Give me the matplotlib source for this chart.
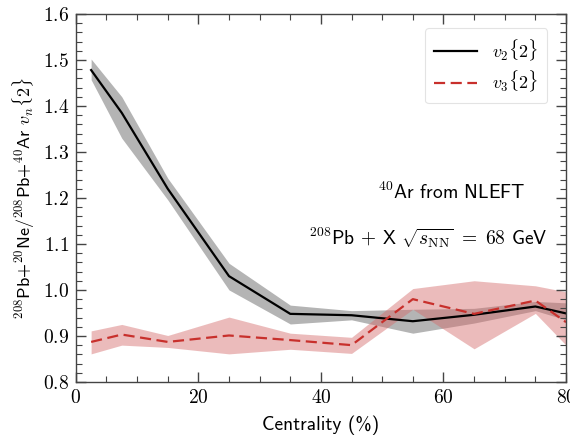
import numpy as np
import matplotlib
matplotlib.use('Agg')
import matplotlib.pyplot as plt
from matplotlib.ticker import MultipleLocator

plt.rcParams['mathtext.fontset'] = 'cm'
plt.rcParams['axes.formatter.use_mathtext'] = True

# Centrality bins (%)
cent = [2.5, 7.5, 15, 25, 35, 45, 55, 65, 75, 80]

# v2{2} ratio and band
v2 = [1.478, 1.385, 1.220, 1.030, 0.948, 0.945, 0.932, 0.946, 0.964, 0.949]
v2_hi = [1.502, 1.420, 1.243, 1.058, 0.967, 0.955, 0.958, 0.960, 0.975, 0.972]
v2_lo = [1.457, 1.330, 1.196, 1.000, 0.926, 0.935, 0.906, 0.928, 0.955, 0.935]

# v3{2} ratio and band
v3 = [0.887, 0.903, 0.887, 0.901, 0.891, 0.880, 0.980, 0.948, 0.977, 0.930]
v3_hi = [0.911, 0.925, 0.901, 0.941, 0.906, 0.897, 1.003, 1.020, 1.009, 0.996]
v3_lo = [0.861, 0.880, 0.875, 0.861, 0.871, 0.862, 0.958, 0.872, 0.949, 0.880]

fig = plt.figure(figsize=(5.7, 4.36), dpi=100)
ax = fig.add_axes([0.133, 0.124, 0.860, 0.844])

red = '#c8302c'
ax.fill_between(cent, v2_lo, v2_hi, color='#8c8c8c', alpha=0.65, linewidth=0)
ax.fill_between(cent, v3_lo, v3_hi, color='#d46a6a', alpha=0.45, linewidth=0)
ax.plot(cent, v2, color='black', lw=1.6, label=r'$v_2\{2\}$')
ax.plot(cent, v3, color=red, lw=1.6, ls=(0, (5, 2.5)), label=r'$v_3\{2\}$')

ax.set_xlim(0, 80)
ax.set_ylim(0.8, 1.6)
ax.xaxis.set_major_locator(MultipleLocator(20))
ax.xaxis.set_minor_locator(MultipleLocator(5))
ax.yaxis.set_major_locator(MultipleLocator(0.1))
ax.yaxis.set_minor_locator(MultipleLocator(0.02))
ax.tick_params(which='both', direction='in', top=True, right=True, color='#444444')
ax.tick_params(which='major', length=7, width=1.0, labelsize=14, pad=5)
ax.tick_params(which='minor', length=4, width=0.8)
for lab in ax.get_xticklabels() + ax.get_yticklabels():
    lab.set_fontfamily('cmr10')
for s in ax.spines.values():
    s.set_color('#444444')
    s.set_linewidth(1.0)

sans = ['cmss10', 'DejaVu Sans']
ax.set_xlabel('Centrality (%)', fontsize=14, family=sans, labelpad=6)
ax.set_ylabel(r'$^{208}$Pb+$^{20}$Ne/$^{208}$Pb+$^{40}$Ar $v_n\{2\}$',
              fontsize=13, family=sans, labelpad=4)

ax.text(0.767, 0.516, r'$^{40}$Ar from NLEFT', transform=ax.transAxes,
        ha='center', va='center', fontsize=14, family=sans)
ax.text(0.963, 0.391, r'$^{208}$Pb $+$ X $\sqrt{s_{\rm NN}}\ =\ 68$ GeV', transform=ax.transAxes,
        ha='right', va='center', fontsize=14, family=sans)

leg = ax.legend(loc='upper right', fontsize=13, frameon=True, fancybox=True,
                handlelength=2.4, borderpad=0.5, labelspacing=0.35,
                bbox_to_anchor=(0.98, 0.985))
leg.get_frame().set_edgecolor('#dddddd')
leg.get_frame().set_linewidth(0.8)

fig.savefig('out.png', dpi=100)
